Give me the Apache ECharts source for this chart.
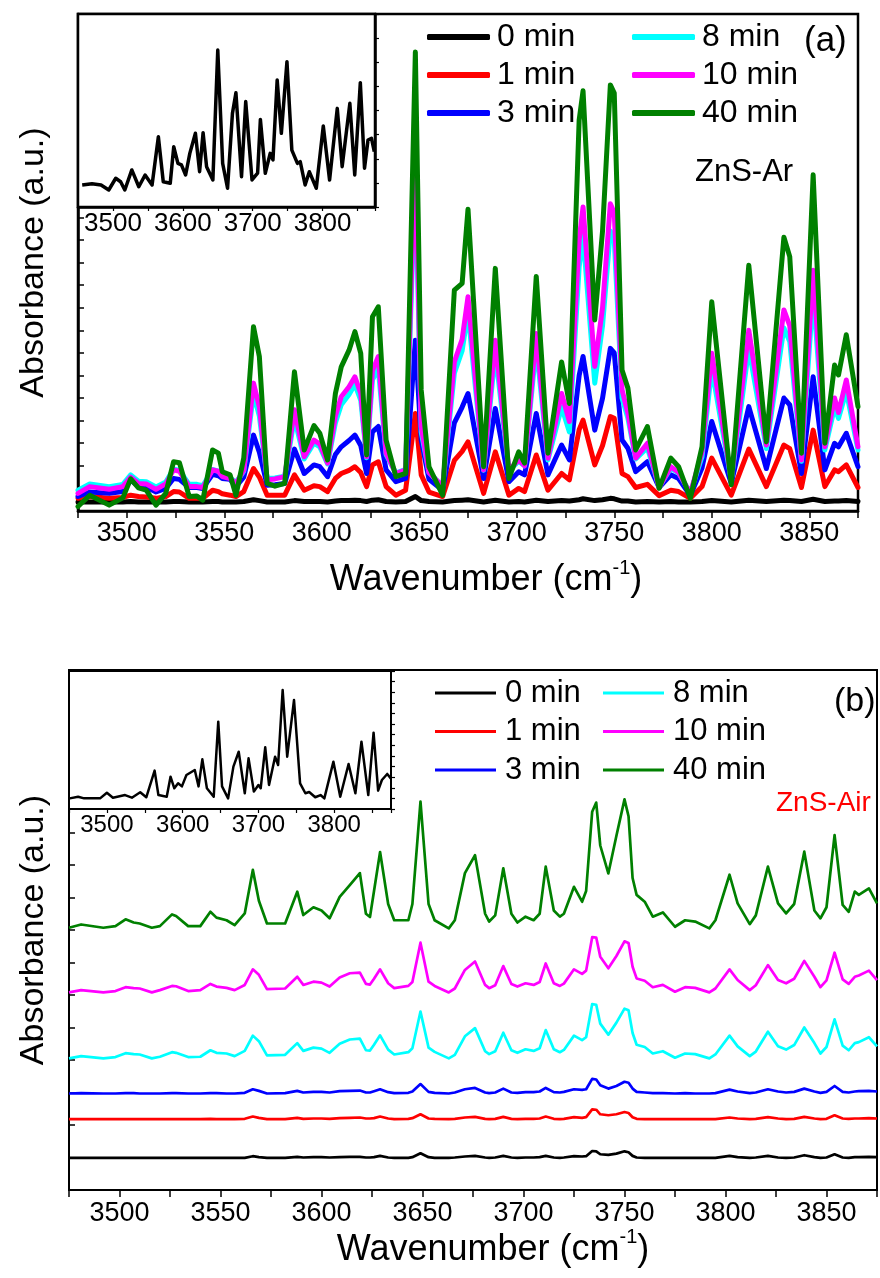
<!DOCTYPE html>
<html>
<head>
<meta charset="utf-8">
<title>ZnS FTIR spectra</title>
<script src="https://cdn.jsdelivr.net/npm/echarts@6/dist/echarts.min.js"></script>
<style>
  html, body { margin: 0; padding: 0; background: #fff; }
  #chart { width: 880px; height: 1278px; }
</style>
</head>
<body>
<div id="chart"></div>
<script>
// ---------- Panel (a): ZnS-Ar, absorbance vs. wavenumber ----------
const wnA = [3475,3481,3491,3498,3502,3506,3510,3515,3520,3524,3527,3532,3536,3539,3544,3547,3549,3553,3556,3560,3565,3568,3572,3576,3581,3586,3591,3596,3599,3603,3607,3610,3614,3617,3620,3623,3626,3629,3633,3638,3643,3648,3651,3655,3662,3668,3672,3675,3683,3689,3696,3701,3704,3710,3716,3723,3727,3732,3734,3740,3744,3748,3750,3754,3757,3761,3767,3773,3779,3783,3789,3795,3800,3810,3819,3828,3837,3840,3846,3852,3858,3863,3865,3869,3875];
const arMin0 = [2.0,2.0,2.0,2.0,2.1,2.0,2.0,2.0,2.0,2.1,2.1,2.0,2.0,2.0,2.1,2.1,2.0,2.0,2.0,2.1,2.5,2.3,2.0,2.0,2.0,2.3,2.1,2.1,2.1,2.0,2.2,2.3,2.3,2.4,2.3,2.1,2.4,2.5,2.1,2.0,2.1,3.2,2.3,2.1,2.0,2.3,2.4,2.5,2.0,2.4,2.0,2.1,2.0,2.4,2.1,2.3,2.2,2.5,2.7,2.3,2.5,2.8,2.7,2.2,2.2,2.0,2.1,2.0,2.1,2.0,2.0,2.1,2.3,2.0,2.4,2.1,2.4,2.3,2.1,2.6,2.1,2.2,2.2,2.3,2.1];
const arMin1 = [2.8,3.2,2.8,3.0,3.5,3.2,3.1,2.8,3.2,4.3,4.2,2.8,2.8,2.8,4.6,4.3,3.8,3.5,3.2,4.3,9.4,7.5,3.5,3.5,3.5,8.0,4.6,5.6,5.4,4.3,7.2,8.3,9.0,9.8,8.5,5.4,10.2,10.9,5.4,3.5,4.6,21.6,8.0,4.2,3.2,11.2,13.2,15.3,3.9,13.1,3.5,5.0,4.3,12.4,4.6,8.3,6.9,18.0,20.1,10.2,14.5,20.9,20.5,8.3,7.6,5.2,5.9,3.4,4.6,4.3,2.8,5.4,11.7,3.5,13.7,5.4,14.6,13.8,5.2,17.9,5.4,9.1,8.7,10.2,5.2];
const arMin3 = [3.2,4.2,3.9,4.3,6.9,5.4,5.3,4.2,5.0,7.2,7.0,5.2,5.2,5.0,8.1,7.8,7.2,7.0,5.4,7.5,16.8,13.0,5.7,5.8,6.1,13.7,8.3,10.2,9.8,7.6,12.5,14.2,15.6,16.8,14.5,8.3,17.5,18.7,9.1,6.5,7.2,37.8,15.7,7.0,4.6,19.5,23.0,26.0,7.2,22.7,6.5,8.7,8.0,21.6,8.0,14.6,11.3,30.0,34.2,17.9,25.0,36.0,35.0,15.7,13.9,8.7,10.9,5.2,8.0,7.2,3.4,9.5,19.8,6.1,23.1,9.4,25.0,23.5,8.3,29.7,9.1,15.0,14.2,17.2,9.8];
const arMin8 = [4.6,6.0,5.4,5.9,8.0,6.6,6.5,5.3,6.4,9.3,9.0,5.9,5.9,5.6,9.2,8.8,7.8,7.4,6.3,8.8,26.0,21.0,7.2,7.3,7.7,20.5,11.5,15.0,14.2,10.4,19.5,23.5,25.8,28.0,24.5,11.8,29.0,31.5,12.5,8.4,9.2,75.0,17.5,8.5,5.5,30.5,35.5,44.0,9.0,35.0,8.9,11.0,10.0,36.5,11.3,23.0,17.5,54.0,61.0,28.3,41.0,62.0,60.0,25.0,20.5,11.5,14.0,5.3,9.5,8.4,4.0,12.0,31.5,6.8,36.0,13.8,40.5,37.5,11.0,48.0,13.5,23.0,20.5,26.5,13.5];
const arMin10 = [3.9,5.4,4.8,5.4,7.5,6.1,6.0,4.8,6.0,9.1,8.8,5.4,5.4,5.2,9.1,8.8,7.6,7.2,6.1,9.0,28.3,23.0,6.9,7.1,7.6,22.4,12.0,15.7,14.8,10.6,21.0,25.3,27.5,29.7,26.0,12.0,31.0,34.2,12.8,8.3,9.1,80.0,18.7,8.5,5.4,33.0,38.0,47.4,9.1,37.8,9.1,11.3,10.0,39.3,11.7,26.0,19.8,60.0,67.3,32.0,45.0,68.0,66.0,26.8,21.6,11.7,15.0,5.2,9.8,8.5,3.9,13.0,34.9,6.9,40.0,14.6,44.5,41.0,11.3,53.3,14.2,25.0,21.8,29.0,14.2];
const arMin40 = [1.0,3.5,1.3,2.9,7.1,5.1,4.6,1.3,3.9,10.9,10.7,3.2,3.3,2.4,13.5,12.8,8.7,8.0,3.5,11.7,40.8,34.2,6.1,5.5,6.1,30.8,13.5,18.9,17.2,11.3,26.0,31.9,35.6,39.7,34.9,12.4,43.0,45.2,15.7,7.6,8.3,101.6,26.8,9.8,3.5,48.9,50.4,66.8,9.8,53.7,7.2,13.1,10.6,51.9,12.8,33.0,23.8,86.5,93.0,42.3,62.0,94.3,92.5,31.2,27.2,13.5,18.7,5.0,11.7,9.8,2.8,14.2,46.3,5.8,54.4,15.3,60.6,56.3,12.8,74.4,15.0,32.3,30.1,39.0,23.1];

// Inset of panel (a): single spectrum
const wnInsetA = [3456,3470,3483,3494,3504,3511,3517,3527,3537,3546,3556,3565,3572,3582,3587,3593,3598,3604,3610,3618,3624,3629,3634,3643,3650,3657,3664,3671,3676,3684,3690,3699,3707,3711,3718,3725,3729,3735,3741,3749,3756,3764,3768,3775,3781,3791,3801,3810,3821,3828,3839,3846,3854,3860,3865,3870,3874];
const insetA = [11.4,12.0,11.4,8.8,14.9,13.1,8.8,19.2,10.5,16.6,11.4,36.4,13.1,12.3,31.2,22.6,21.8,16.6,27.8,38.2,18.3,38.5,20.9,14.0,81.3,22.6,9.7,48.5,59.2,15.7,54.6,14.0,17.5,45.4,17.5,27.8,24.4,65.8,38.2,75.3,29.5,22.6,23.5,11.4,18.3,9.7,42.0,14.0,51.1,20.9,53.7,16.6,64.4,20.1,34.7,35.6,28.7];

// ---------- Panel (b): ZnS-Air, vertically offset spectra ----------
const wnB = [3475,3481,3492,3498,3503,3507,3510,3516,3520,3526,3528,3534,3540,3545,3548,3553,3557,3562,3566,3569,3573,3582,3588,3591,3596,3600,3604,3609,3614,3619,3622,3624,3626,3629,3633,3636,3643,3645,3649,3653,3656,3663,3666,3671,3676,3681,3683,3686,3690,3694,3697,3701,3705,3708,3711,3715,3718,3720,3725,3729,3731,3734,3736,3738,3742,3746,3750,3752,3754,3756,3760,3764,3769,3775,3780,3785,3792,3795,3802,3806,3812,3815,3821,3826,3830,3834,3839,3844,3847,3850,3854,3858,3861,3864,3866,3871,3875];
const airMin0 = [0.99,0.99,0.99,0.99,0.99,0.99,0.99,0.99,0.99,0.99,0.99,0.99,0.99,0.99,0.99,0.99,0.99,0.99,1.04,1.01,0.99,0.99,1.02,1.0,1.01,1.01,1.0,1.01,1.02,1.02,1.0,1.0,1.01,1.05,1.0,0.99,0.99,1.01,1.13,1.01,0.99,0.99,1.0,1.03,1.05,1.0,0.99,1.0,1.05,1.0,0.99,1.0,1.0,1.01,1.05,1.0,0.99,1.0,1.04,1.03,1.04,1.2,1.19,1.1,1.08,1.12,1.19,1.16,1.05,1.0,0.99,0.99,0.99,0.99,0.99,0.99,0.99,0.99,1.05,1.01,0.99,1.0,1.05,1.0,0.99,1.0,1.07,1.01,0.99,1.0,1.1,1.0,0.99,1.01,1.01,1.02,1.01];
const airMin1 = [2.18,2.18,2.18,2.18,2.18,2.18,2.18,2.18,2.18,2.18,2.18,2.18,2.18,2.19,2.18,2.18,2.18,2.19,2.26,2.22,2.18,2.18,2.22,2.19,2.2,2.2,2.19,2.21,2.22,2.23,2.2,2.2,2.21,2.26,2.2,2.18,2.19,2.21,2.33,2.2,2.19,2.18,2.19,2.23,2.25,2.19,2.18,2.19,2.25,2.19,2.18,2.19,2.19,2.2,2.26,2.19,2.18,2.19,2.24,2.22,2.24,2.48,2.47,2.33,2.3,2.33,2.4,2.37,2.24,2.19,2.18,2.18,2.18,2.18,2.18,2.18,2.18,2.18,2.23,2.2,2.18,2.19,2.24,2.2,2.18,2.19,2.25,2.2,2.18,2.19,2.3,2.2,2.19,2.2,2.2,2.21,2.2];
const airMin3 = [2.97,2.98,2.97,2.97,2.98,2.98,2.97,2.97,2.97,2.98,2.98,2.97,2.97,2.98,2.98,2.97,2.97,2.99,3.1,3.05,2.97,2.98,3.05,3.0,3.02,3.02,3.0,3.04,3.05,3.06,3.0,3.0,3.04,3.1,3.01,2.98,2.99,3.03,3.26,3.02,2.99,2.97,3.0,3.1,3.14,3.0,2.98,3.0,3.12,3.0,2.99,3.01,3.01,3.03,3.14,3.01,3.0,3.02,3.1,3.08,3.1,3.42,3.4,3.22,3.12,3.2,3.33,3.3,3.12,3.02,3.0,2.98,2.98,2.97,2.98,2.97,2.97,2.98,3.09,3.03,2.98,3.0,3.1,3.03,3.0,3.02,3.12,3.03,2.99,3.02,3.2,3.02,3.0,3.03,3.04,3.05,3.03];
const airMin8 = [4.05,4.12,4.05,4.09,4.21,4.18,4.17,4.05,4.1,4.24,4.22,4.09,4.1,4.3,4.22,4.2,4.12,4.28,4.75,4.58,4.14,4.16,4.52,4.28,4.38,4.35,4.22,4.5,4.63,4.66,4.3,4.29,4.47,4.76,4.32,4.17,4.24,4.36,5.49,4.38,4.25,4.05,4.16,4.73,4.98,4.27,4.18,4.27,4.84,4.3,4.22,4.33,4.28,4.36,4.92,4.33,4.24,4.31,4.75,4.61,4.7,5.72,5.7,5.12,4.78,5.15,5.58,5.53,4.83,4.47,4.4,4.2,4.27,4.07,4.2,4.18,4.05,4.17,4.75,4.42,4.12,4.26,4.87,4.42,4.32,4.46,5.0,4.52,4.2,4.4,5.25,4.44,4.3,4.52,4.55,4.7,4.42];
const airMin10 = [6.08,6.15,6.08,6.12,6.24,6.21,6.2,6.08,6.15,6.28,6.27,6.12,6.15,6.34,6.26,6.22,6.15,6.31,6.79,6.62,6.18,6.2,6.56,6.31,6.41,6.38,6.26,6.54,6.67,6.69,6.34,6.32,6.5,6.79,6.36,6.21,6.28,6.4,7.61,6.41,6.28,6.08,6.2,6.77,7.03,6.31,6.21,6.3,6.89,6.34,6.26,6.36,6.31,6.4,6.97,6.36,6.28,6.35,6.79,6.65,6.75,7.78,7.77,7.18,6.82,7.2,7.65,7.6,6.87,6.51,6.44,6.24,6.31,6.1,6.24,6.22,6.08,6.2,6.79,6.46,6.15,6.3,6.92,6.46,6.36,6.5,7.05,6.56,6.24,6.45,7.3,6.48,6.34,6.56,6.6,6.75,6.46];
const airMin40 = [8.07,8.17,8.07,8.12,8.33,8.23,8.2,8.07,8.12,8.48,8.43,8.12,8.12,8.56,8.38,8.3,8.15,8.51,9.85,8.9,8.2,8.2,9.18,8.46,8.7,8.6,8.36,9.02,9.38,9.75,8.5,8.4,9.2,10.4,8.8,8.3,8.3,8.8,11.95,8.8,8.3,8.05,8.3,9.75,10.3,8.5,8.26,8.45,9.9,8.5,8.23,8.41,8.3,8.5,9.95,8.6,8.41,8.5,9.33,8.87,9.2,11.64,11.92,10.6,9.74,10.9,12.02,11.5,9.6,9.08,8.87,8.41,8.54,8.1,8.3,8.26,8.05,8.3,9.7,8.82,8.18,8.45,9.95,8.82,8.51,8.8,10.41,8.6,8.36,8.7,10.92,8.77,8.56,9.18,9.08,9.28,8.82];

// Inset of panel (b): single spectrum
const wnInsetB = [3451,3462,3470,3491,3500,3508,3524,3533,3544,3552,3563,3568,3579,3584,3589,3594,3599,3605,3616,3621,3626,3632,3641,3647,3652,3660,3667,3674,3682,3687,3694,3700,3703,3709,3714,3722,3726,3732,3738,3747,3755,3762,3767,3775,3782,3787,3799,3808,3819,3828,3836,3845,3852,3858,3863,3870,3875];
const insetB = [7.7,8.9,7.7,7.7,11.8,8.2,10.1,8.2,12.1,8.5,27.8,10.1,8.9,23.4,15.0,18.6,16.4,24.6,28.3,16.4,36.0,15.0,8.9,63.3,16.4,7.7,30.7,41.5,11.4,36.7,12.6,17.4,15.0,44.7,17.4,37.9,31.9,86.2,37.9,79.0,18.6,11.4,12.3,8.5,10.1,7.7,34.3,8.9,32.6,11.4,48.8,10.1,55.3,13.3,21.0,25.4,22.0];

// Series labels, colours and tick label values
const timeLabels = ['0 min', '1 min', '3 min', '8 min', '10 min', '40 min'];
const timeColors = ['#000000', '#ff0000', '#0000ff', '#00ffff', '#ff00ff', '#008000'];
const mainTickLabels = [3500, 3550, 3600, 3650, 3700, 3750, 3800, 3850];
const insetTickLabels = [3500, 3600, 3700, 3800];

const arSeries = [arMin0, arMin1, arMin3, arMin8, arMin10, arMin40];
const airSeries = [airMin0, airMin1, airMin3, airMin8, airMin10, airMin40];

const NARROW = "'Liberation Sans Narrow', 'Arial Narrow', 'Liberation Sans', Arial, sans-serif";
const REG = "'Liberation Sans', Arial, sans-serif";

const pairs = (xs, ys) => xs.map((x, i) => [x, ys[i]]);

function mainX(gridIndex, w, labelMargin, nameGap, nameShift) {
  return {
    type: 'value', gridIndex, min: 3475, max: 3875, interval: 25,
    axisLine: { show: true, onZero: false, lineStyle: { color: '#000', width: w } },
    axisTick: { show: true, inside: false, length: 7, lineStyle: { color: '#000', width: 1.5 } },
    splitLine: { show: false },
    axisLabel: {
      show: true, margin: labelMargin, color: '#000', fontSize: 27, fontFamily: NARROW,
      formatter: v => (mainTickLabels.indexOf(v) >= 0 ? String(v) : '')
    },
    name: '{t|Wavenumber (cm}{s|-1}{t|)}',
    nameLocation: 'middle', nameGap,
    nameTextStyle: {
      padding: [0, 0, 0, nameShift],
      rich: {
        t: { fontSize: 36, fontFamily: NARROW, color: '#000', lineHeight: 40, verticalAlign: 'bottom' },
        s: { fontSize: 20, fontFamily: NARROW, color: '#000', lineHeight: 40, verticalAlign: 'top', padding: [0, 0, 16, 0] }
      }
    }
  };
}

function insetX(gridIndex, fontSize, w) {
  return {
    type: 'value', gridIndex, min: 3450, max: 3875, interval: 50,
    axisLine: { show: true, onZero: false, lineStyle: { color: '#000', width: w } },
    axisTick: { show: true, inside: false, length: 4, lineStyle: { color: '#000', width: 1.2 } },
    splitLine: { show: false },
    axisLabel: {
      show: true, margin: 4, color: '#000', fontSize, fontFamily: NARROW,
      formatter: v => (insetTickLabels.indexOf(v) >= 0 ? String(v) : '')
    }
  };
}

const option = {
  animation: false,
  backgroundColor: '#fff',
  grid: [
    { left: 78, top: 14, width: 780, height: 497, show: true, borderColor: '#000', borderWidth: 2.5, backgroundColor: 'transparent' },
    { left: 78, top: 14, width: 297, height: 193, show: true, borderColor: '#000', borderWidth: 2.5, backgroundColor: '#fff', z: 3 },
    { left: 69, top: 670, width: 813, height: 520, show: true, borderColor: '#000', borderWidth: 2, backgroundColor: 'transparent' },
    { left: 69, top: 671, width: 322, height: 138, show: true, borderColor: '#000', borderWidth: 2, backgroundColor: '#fff', z: 3 }
  ],
  xAxis: [
    mainX(0, 2.5, 9, 47, 36),
    insetX(1, 26, 2.5),
    mainX(2, 2, 10, 37, 40),
    insetX(3, 24, 2)
  ],
  yAxis: [
    {
      type: 'value', gridIndex: 0, min: 0, max: 110, interval: 5,
      axisLine: { show: true, lineStyle: { color: '#000', width: 2.5 } },
      axisTick: { show: true, inside: true, length: 6, lineStyle: { color: '#000', width: 1.5 } },
      axisLabel: { show: false }, splitLine: { show: false },
      name: 'Absorbance (a.u.)', nameLocation: 'middle', nameGap: 27,
      nameTextStyle: { fontSize: 34, fontFamily: NARROW, color: '#000' }
    },
    {
      type: 'value', gridIndex: 1, min: 0, max: 100, interval: 12.5, position: 'right',
      axisLine: { show: true, lineStyle: { color: '#000', width: 2.5 } },
      axisTick: { show: true, inside: false, length: 4, lineStyle: { color: '#000', width: 1.2 } },
      axisLabel: { show: false }, splitLine: { show: false }
    },
    {
      type: 'value', gridIndex: 2, min: 0, max: 16, interval: 1,
      axisLine: { show: true, lineStyle: { color: '#000', width: 2 } },
      axisTick: { show: true, inside: true, length: 6, lineStyle: { color: '#000', width: 1.5 } },
      axisLabel: { show: false }, splitLine: { show: false },
      name: 'Absorbance (a.u.)', nameLocation: 'middle', nameGap: 18,
      nameTextStyle: { fontSize: 34, fontFamily: NARROW, color: '#000' }
    },
    {
      type: 'value', gridIndex: 3, min: 0, max: 100, interval: 100 / 13, position: 'right',
      axisLine: { show: true, lineStyle: { color: '#000', width: 2 } },
      axisTick: { show: true, inside: false, length: 4, lineStyle: { color: '#000', width: 1.2 } },
      axisLabel: { show: false }, splitLine: { show: false }
    }
  ],
  legend: [
    { data: timeLabels.slice(0, 3), left: 427, top: 21, orient: 'vertical', padding: 0, itemGap: 6,
      itemWidth: 63, itemHeight: 6, icon: 'roundRect', selectedMode: false,
      textStyle: { fontSize: 32, lineHeight: 32, fontFamily: REG, color: '#000', padding: [0, 0, 0, 2] } },
    { data: timeLabels.slice(3), left: 632, top: 21, orient: 'vertical', padding: 0, itemGap: 6,
      itemWidth: 63, itemHeight: 6, icon: 'roundRect', selectedMode: false,
      textStyle: { fontSize: 32, lineHeight: 32, fontFamily: REG, color: '#000', padding: [0, 0, 0, 2] } },
    { data: timeLabels.slice(0, 3), left: 435, top: 677, orient: 'vertical', padding: 0, itemGap: 6.5,
      itemWidth: 61, itemHeight: 3, icon: 'rect', selectedMode: false,
      textStyle: { fontSize: 31, lineHeight: 32, fontFamily: REG, color: '#000', padding: [0, 0, 0, 4] } },
    { data: timeLabels.slice(3), left: 603, top: 677, orient: 'vertical', padding: 0, itemGap: 6.5,
      itemWidth: 61, itemHeight: 3, icon: 'rect', selectedMode: false,
      textStyle: { fontSize: 31, lineHeight: 32, fontFamily: REG, color: '#000', padding: [0, 0, 0, 4] } }
  ],
  graphic: [
    { type: 'text', left: 804, top: 24, z: 10, style: { text: '(a)', fontSize: 35, fontFamily: REG, fill: '#000' } },
    { type: 'text', left: 695, top: 157, z: 10, style: { text: 'ZnS-Ar', fontSize: 31, fontFamily: REG, fill: '#000' } },
    { type: 'text', left: 834, top: 685, z: 10, style: { text: '(b)', fontSize: 34, fontFamily: REG, fill: '#000' } },
    { type: 'text', left: 776, top: 789, z: 10, style: { text: 'ZnS-Air', fontSize: 28, fontFamily: REG, fill: '#ff0000' } }
  ],
  series: []
};

// Panel (a) spectra: thick lines
arSeries.forEach((ys, i) => {
  option.series.push({
    name: timeLabels[i], type: 'line', xAxisIndex: 0, yAxisIndex: 0,
    data: pairs(wnA, ys), symbol: 'none', smooth: false, z: 2 + i,
    color: timeColors[i],
    lineStyle: { color: timeColors[i], width: 5, join: 'round', cap: 'round' }
  });
});
option.series.push({
  name: 'ZnS-Ar 40 min (inset)', type: 'line', xAxisIndex: 1, yAxisIndex: 1,
  data: pairs(wnInsetA, insetA), symbol: 'none', z: 12, color: '#000',
  lineStyle: { color: '#000', width: 3.5, join: 'round' }
});

// Panel (b) spectra: thin lines
airSeries.forEach((ys, i) => {
  option.series.push({
    name: timeLabels[i], type: 'line', xAxisIndex: 2, yAxisIndex: 2,
    data: pairs(wnB, ys), symbol: 'none', smooth: false, z: 2 + i,
    color: timeColors[i],
    lineStyle: { color: timeColors[i], width: 2.7, join: 'round' }
  });
});
option.series.push({
  name: 'ZnS-Air 40 min (inset)', type: 'line', xAxisIndex: 3, yAxisIndex: 3,
  data: pairs(wnInsetB, insetB), symbol: 'none', z: 12, color: '#000',
  lineStyle: { color: '#000', width: 2.5, join: 'round' }
});

const chart = echarts.init(document.getElementById('chart'), null, { renderer: 'canvas', devicePixelRatio: 1 });
chart.setOption(option);
</script>
</body>
</html>
